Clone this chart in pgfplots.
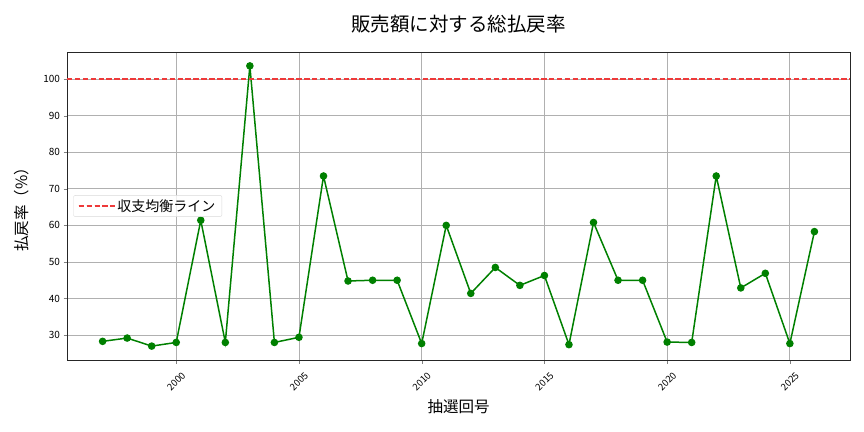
\documentclass[border=0pt]{standalone}
\usepackage{pgfplots}
\pgfplotsset{compat=1.18}
\usepackage{fontspec}
\setmainfont{Noto Sans CJK JP}
\definecolor{mplgreen}{RGB}{0,128,0}
\definecolor{mplred}{RGB}{238,58,58}
\definecolor{gridgray}{RGB}{176,176,176}
\begin{document}
\begin{tikzpicture}
\path[use as bounding box] (-67bp,-72bp) rectangle (797bp,360bp);
\begin{axis}[
  at={(0,0)}, anchor=origin,
  scale only axis,
  width=783bp, height=308bp,
  xmin=1995.55, xmax=2027.45,
  ymin=23.2, ymax=107.4,
  xtick={2000,2005,2010,2015,2020,2025},
  ytick={30,40,50,60,70,80,90,100},
  xticklabel style={yshift=-18bp, rotate=45, anchor=center, font=\fontsize{9.5bp}{10bp}\selectfont, inner sep=0bp},
  yticklabel style={font=\fontsize{10bp}{11bp}\selectfont},
  /pgf/number format/assume math mode=true,
  /pgf/number format/1000 sep={},
  tick align=outside,
  tick pos=left,
  major tick length=3.5bp,
  grid=major,
  major grid style={gridgray, line width=0.8bp},
  axis line style={black!85, line width=0.8bp},
  title={販売額に対する総払戻率},
  title style={font=\fontsize{19.5bp}{22bp}\selectfont, at={(axis description cs:0.5,1.072)}, anchor=center},
  xlabel={抽選回号},
  ylabel={払戻率（\%）},
  xlabel style={font=\fontsize{15.5bp}{17bp}\selectfont, at={(axis description cs:0.5,-0.1526)}, anchor=center},
  ylabel style={font=\fontsize{15.5bp}{17bp}\selectfont, at={(axis description cs:-0.0575,0.5)}, anchor=center},
  legend style={at={(0.008,0.5)}, anchor=west, font=\fontsize{14bp}{15bp}\selectfont,
    draw=black!15, rounded corners=2bp, fill=white, fill opacity=0.8, text opacity=1,
    inner xsep=4.5bp, inner ysep=2bp, row sep=0bp},
  legend image code/.code={\draw[#1] (0bp,0bp) -- (29bp,0bp); \path (0bp,0bp) -- (36bp,0bp);},
  legend cell align=left,
]
\addplot[mplgreen, line width=1.5bp, mark=*, mark size=3bp, mark options={fill=mplgreen, draw=mplgreen, solid}, forget plot] coordinates {
(1997,28.3) (1998,29.2) (1999,27.0) (2000,28.0) (2001,61.4) (2002,28.0)
(2003,103.6) (2004,28.0) (2005,29.4) (2006,73.5) (2007,44.8) (2008,45.0)
(2009,45.0) (2010,27.7) (2011,60.0) (2012,41.4) (2013,48.5) (2014,43.6)
(2015,46.3) (2016,27.4) (2017,60.8) (2018,45.0) (2019,45.0) (2020,28.1)
(2021,28.0) (2022,73.5) (2023,42.9) (2024,46.9) (2025,27.7) (2026,58.3)
};
\addplot[mplred, line width=1.5bp, dash pattern=on 5.5bp off 2.4bp] coordinates {(1995.55,100) (2027.45,100)};
\addlegendentry{収支均衡ライン}
\end{axis}
\end{tikzpicture}
\end{document}
